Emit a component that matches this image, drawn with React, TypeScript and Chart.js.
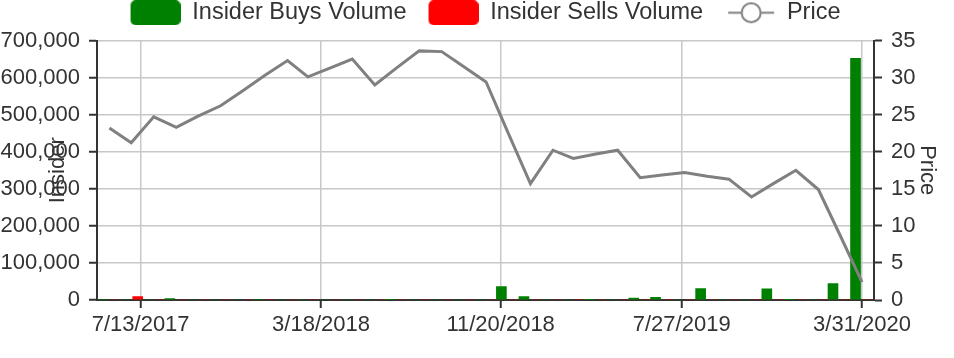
import React, { useEffect, useRef } from 'react';
import { Chart, registerables } from 'chart.js';

Chart.register(...registerables);

// ---------- data ----------
const monthDates = [
  '2017-05-31', '2017-06-30', '2017-07-31', '2017-08-31', '2017-09-30', '2017-10-31',
  '2017-11-30', '2017-12-31', '2018-01-31', '2018-02-28', '2018-03-31', '2018-04-30',
  '2018-05-31', '2018-06-30', '2018-07-31', '2018-08-31', '2018-09-30', '2018-10-31',
  '2018-11-30', '2018-12-31', '2019-01-31', '2019-02-28', '2019-03-31', '2019-04-30',
  '2019-05-31', '2019-06-30', '2019-07-31', '2019-08-31', '2019-09-30', '2019-10-31',
  '2019-11-30', '2019-12-31', '2020-01-31', '2020-02-29', '2020-03-31',
];

const priceValues = [
  23.2, 21.2, 24.7, 23.3, 24.8, 26.2,
  28.2, 30.3, 32.3, 30.1, 31.3, 32.5,
  29.0, 31.3, 33.6, 33.5, 31.5, 29.4,
  22.6, 15.7, 20.2, 19.1, 19.7, 20.2,
  16.5, 16.85, 17.2, 16.7, 16.3, 13.9,
  15.7, 17.5, 14.9, 8.9, 2.4,
];

const insiderBuys = [
  2000, 0, 0, 4000, 0, 0,
  0, 2000, 0, 0, 0, 0,
  0, 1500, 0, 0, 0, 0,
  36500, 9500, 0, 0, 1500, 0,
  5000, 7500, 0, 31000, 0, 0,
  30000, 1500, 0, 44000, 652000,
];

const insiderSells = [
  0, 9500, 0, 0, 0, 0,
  0, 0, 0, 0, 0, 0,
  0, 0, 0, 0, 0, 0,
  0, 0, 0, 0, 0, 0,
  0, 0, 0, 0, 0, 0,
  0, 0, 0, 0, 0,
];

const xTickDates = ['2017-07-13', '2018-03-18', '2018-11-20', '2019-07-27', '2020-03-31'];

const seriesLabels = ['Insider Buys Volume', 'Insider Sells Volume', 'Price'];
const volumeMax = 700000;
const volumeStep = 100000;
const priceMax = 35;
const priceStep = 5;

// ---------- helpers ----------
const DAY = 86400000;
const toDay = (s: string) =>
  Date.UTC(+s.slice(0, 4), +s.slice(5, 7) - 1, +s.slice(8, 10)) / DAY;
const fmtDay = (d: number) => {
  const dt = new Date(Math.round(d) * DAY);
  return `${dt.getUTCMonth() + 1}/${dt.getUTCDate()}/${dt.getUTCFullYear()}`;
};

const BUY_COLOR = '#008000';
const SELL_COLOR = '#ff0000';
const PRICE_COLOR = '#808080';
const TEXT_COLOR = '#333333';
const GRID_COLOR = '#c8c8c8';
const AXIS_COLOR = '#333333';
const FONT = "'Liberation Sans', Arial, Helvetica, sans-serif";

const LEG_GAP = 21;
const LEG_W = 50;
const LEG_H = 25;
const LEG_FONT = 23.5;

function makeSwatch(kind: 'box' | 'line', color: string) {
  const c = document.createElement('canvas');
  c.width = LEG_GAP + LEG_W;
  c.height = LEG_H;
  const ctx = c.getContext('2d') as CanvasRenderingContext2D;
  if (kind === 'box') {
    ctx.fillStyle = color;
    ctx.beginPath();
    (ctx as any).roundRect(LEG_GAP, 0, LEG_W, LEG_H, 5);
    ctx.fill();
  } else {
    ctx.strokeStyle = color;
    ctx.lineWidth = 2;
    ctx.beginPath();
    ctx.moveTo(LEG_GAP + 3, LEG_H / 2);
    ctx.lineTo(LEG_GAP + LEG_W - 1, LEG_H / 2);
    ctx.stroke();
    ctx.beginPath();
    ctx.arc(LEG_GAP + LEG_W / 2 + 1, LEG_H / 2, 9.5, 0, Math.PI * 2);
    ctx.fillStyle = '#ffffff';
    ctx.fill();
    ctx.stroke();
  }
  return c;
}

export default function App() {
  const ref = useRef<HTMLCanvasElement | null>(null);

  useEffect(() => {
    if (!ref.current) return;
    Chart.defaults.font.family = FONT;
    Chart.defaults.font.size = 22;
    Chart.defaults.color = TEXT_COLOR;

    const days = monthDates.map(toDay);
    const buysData = days.map((x, i) => ({ x, y: insiderBuys[i] }));
    const sellsData = days.map((x, i) => ({ x, y: insiderSells[i] }));
    const priceData = days.map((x, i) => ({ x, y: priceValues[i] }));

    const swatches = [
      makeSwatch('box', BUY_COLOR),
      makeSwatch('box', SELL_COLOR),
      makeSwatch('line', PRICE_COLOR),
    ];

    const chart = new Chart(ref.current, {
      type: 'bar',
      data: {
        datasets: [
          {
            type: 'bar',
            label: seriesLabels[0],
            data: buysData as any,
            backgroundColor: BUY_COLOR,
            yAxisID: 'y',
            barThickness: 13,
            maxBarThickness: 10,
            order: 1,
          },
          {
            type: 'bar',
            label: seriesLabels[1],
            data: sellsData as any,
            backgroundColor: SELL_COLOR,
            yAxisID: 'y',
            barThickness: 13,
            maxBarThickness: 10,
            order: 2,
          },
          {
            type: 'line',
            label: seriesLabels[2],
            data: priceData as any,
            borderColor: PRICE_COLOR,
            backgroundColor: '#ffffff',
            borderWidth: 3,
            pointRadius: 0,
            pointHoverRadius: 0,
            tension: 0,
            fill: false,
            yAxisID: 'y1',
            order: 0,
          },
        ],
      },
      options: {
        responsive: false,
        animation: false,
        events: [],
        layout: { padding: { top: 0, left: 0, right: 4, bottom: 15.6 } },
        plugins: {
          tooltip: { enabled: false },
          title: {
            display: true,
            text: '',
            weight: 500,
            font: { size: 1, lineHeight: 0 },
            padding: { top: 6, bottom: 0 },
          } as any,
          legend: {
            display: true,
            position: 'top',
            align: 'center',
            labels: {
              usePointStyle: true,
              pointStyleWidth: LEG_GAP + LEG_W,
              boxHeight: 22,
              padding: 1,
              color: TEXT_COLOR,
              font: { size: LEG_FONT, family: FONT },
              generateLabels: (ch: any) =>
                seriesLabels.map((text, i) => ({
                  text,
                  pointStyle: swatches[i] as any,
                  fillStyle: 'transparent',
                  strokeStyle: 'transparent',
                  lineWidth: 0,
                  fontColor: TEXT_COLOR,
                  hidden: !ch.isDatasetVisible(i),
                  datasetIndex: i,
                })),
            },
          },
        },
        scales: {
          x: {
            type: 'linear',
            position: 'bottom',
            min: days[0] - 17,
            max: days[days.length - 1] + 16.5,
            offset: false,
            grid: {
              offset: false,
              color: GRID_COLOR,
              lineWidth: 1.5,
              tickColor: AXIS_COLOR,
              tickLength: 8,
              tickWidth: 2,
            },
            border: { color: AXIS_COLOR, width: 2 },
            afterBuildTicks: (scale: any) => {
              scale.ticks = xTickDates.map((d) => ({ value: toDay(d) }));
            },
            ticks: {
              autoSkip: false,
              maxRotation: 0,
              minRotation: 0,
              padding: 4,
              color: TEXT_COLOR,
              font: { size: 22 },
              callback: (v: any) => fmtDay(Number(v)),
            },
          } as any,
          y: {
            type: 'linear',
            position: 'left',
            min: 0,
            max: volumeMax,
            grid: {
              color: GRID_COLOR,
              lineWidth: 1.5,
              tickColor: AXIS_COLOR,
              tickLength: 8,
              tickWidth: 2,
            },
            border: { color: AXIS_COLOR, width: 2 },
            ticks: {
              stepSize: volumeStep,
              padding: 9,
              color: TEXT_COLOR,
              font: { size: 22 },
              callback: (v: any) => Number(v).toLocaleString('en-US'),
            },
            title: {
              display: true,
              text: 'Insider',
              color: TEXT_COLOR,
              font: { size: 22 },
              padding: { top: 44.8, bottom: -79.7 },
            },
          },
          y1: {
            type: 'linear',
            position: 'right',
            min: 0,
            max: priceMax,
            grid: {
              drawOnChartArea: false,
              tickColor: AXIS_COLOR,
              tickLength: 8,
              tickWidth: 2,
            },
            border: { color: AXIS_COLOR, width: 2 },
            ticks: {
              stepSize: priceStep,
              padding: 9,
              color: TEXT_COLOR,
              font: { size: 22 },
            },
            title: {
              display: true,
              text: 'Price',
              color: TEXT_COLOR,
              font: { size: 22 },
              padding: { top: 9.8, bottom: -10.7 },
            },
          },
        },
      } as any,
    });

    return () => chart.destroy();
  }, []);

  return (
    <div style={{ position: 'absolute', left: 0, top: 0, width: 954, height: 358 }}>
      <canvas ref={ref} width={954} height={358} />
    </div>
  );
}
